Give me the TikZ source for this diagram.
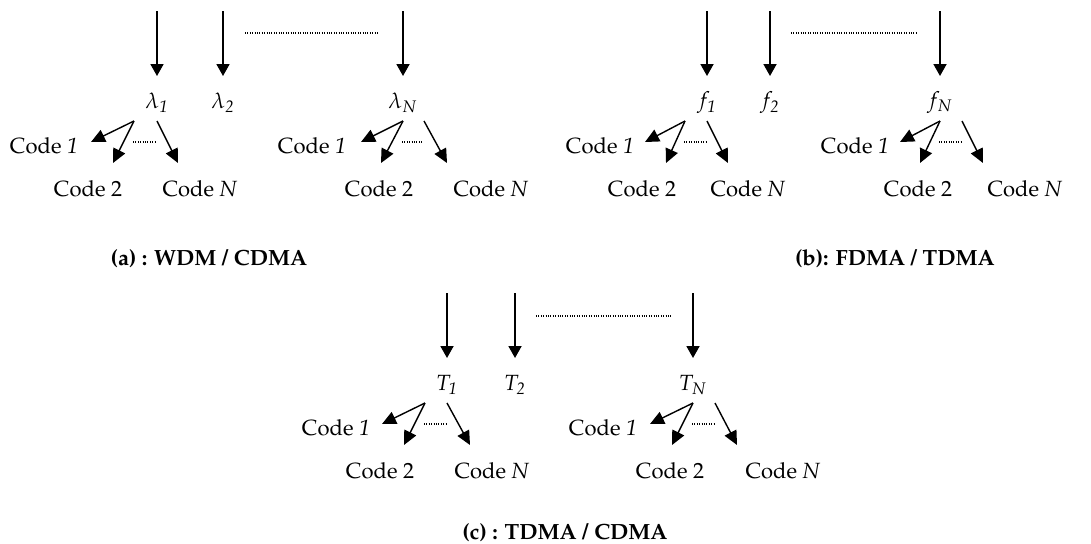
\documentclass[tikz,border=0pt]{standalone}
\usepackage[T1]{fontenc}
\usepackage{mathpazo}
\usetikzlibrary{arrows.meta}
\begin{document}
\begin{tikzpicture}[x=0.5pt,y=-0.5pt,
  font=\fontsize{11}{13}\selectfont,
  bigarrow/.style={line width=0.9pt,-{Triangle[length=6pt,width=6.5pt]}},
  subarrow/.style={line width=0.7pt,-{Triangle[length=7pt,width=6.5pt]}},
  dotline/.style={line width=0.6pt,dash pattern=on 0.5pt off 0.7pt},
  lbl/.style={inner sep=0pt},
  codetxt/.style={inner sep=0pt},
  caption/.style={inner sep=0pt,font=\fontsize{11}{13}\selectfont\bfseries}]
\useasboundingbox (0,0) rectangle (1091,543);

% ---------- top arrows, labels and long dotted lines ----------
\foreach \n/\x/\lab/\ya in {
  a1/157/{$\lambda_{\mathit{1}}$}/0, a2/223/{$\lambda_{\mathit{2}}$}/0, aN/403/{$\lambda_{N}$}/0,
  b1/707/{$f_{\mathit{1}}$}/0, b2/770/{$f_{\mathit{2}}$}/0, bN/940/{$f_{N}$}/0,
  c1/447/{$T_{\mathit{1}}$}/282, c2/515/{$T_{\mathit{2}}$}/282, cN/693/{$T_{N}$}/282}{
  \coordinate (top-\n) at (\x,11+\ya);
  \coordinate (tip-\n) at (\x,76+\ya);
  \node[lbl] (lab-\n) at (\x,103+\ya) {\lab};
  \draw[bigarrow] (top-\n) -- (tip-\n);
}
\foreach \n/\xa/\xb/\y in {a/245/379/33, b/791/918/33, c/536/671/316}{
  \coordinate (ld-\n) at (\xa,\y);
  \coordinate (rd-\n) at (\xb,\y);
  \draw[dotline] (ld-\n) -- (rd-\n);
}

% ---------- code sub-trees ----------
\foreach \n/\L/\R/\ta/\tb/\tc/\ca/\cb/\cc/\o in {
  a1/134/157/91/113/178/44/88/200/0,
  aN/403/424/361/381/447/312/379/491/0,
  b1/685/707/645/666/728/600/642/748/0,
  bN/940/962/900/920/983/855/918/1025/0,
  c1/425/447/382/404/470/336/380/492/282,
  cN/693/715/650/672/737/603/670/783/282}{
  \coordinate (sl-\n) at (\L,121+\o);
  \coordinate (sr-\n) at (\R,121+\o);
  \coordinate (t1-\n) at (\ta,142+\o);
  \coordinate (t2-\n) at (\tb,163+\o);
  \coordinate (tN-\n) at (\tc,163+\o);
  \node[codetxt] (code1-\n) at (\ca,146+\o) {Code \textit{1}};
  \node[codetxt] (code2-\n) at (\cb,189+\o) {Code 2};
  \node[codetxt] (codeN-\n) at (\cc,189+\o) {Code \textit{N}};
  \draw[subarrow] (sl-\n) -- (t1-\n);
  \draw[subarrow] (sl-\n) -- (t2-\n);
  \draw[subarrow] (sr-\n) -- (tN-\n);
  \coordinate (dl-\n) at (\L-1,142+\o);
  \coordinate (dr-\n) at (\R-1,142+\o);
  \draw[dotline] (dl-\n) -- (dr-\n);
}

% ---------- captions ----------
\node[caption] (capa) at (209,259) {(a) : WDM / CDMA};
\node[caption] (capb) at (895,259) {(b): FDMA / TDMA};
\node[caption] (capc) at (565,533) {(c) : TDMA / CDMA};
\end{tikzpicture}
\end{document}
